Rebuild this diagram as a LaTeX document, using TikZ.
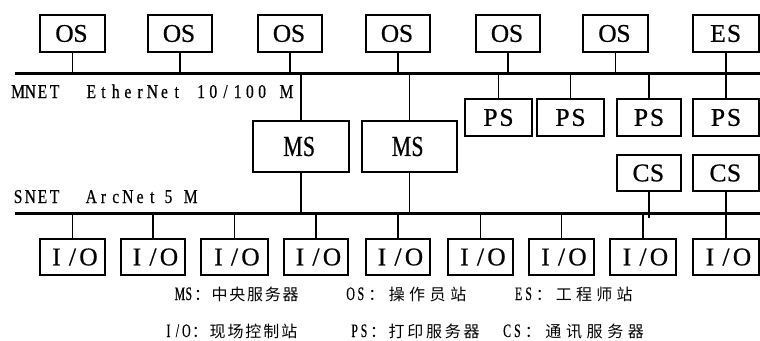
\documentclass[tikz,border=0pt]{standalone}
\usepackage{fontspec}
\setmainfont{Liberation Serif}
\newfontfamily\latw[FakeBold=0.6]{Liberation Serif}
\newfontfamily\latm[FakeStretch=0.75,FakeBold=0.6]{Liberation Serif}
\newfontfamily\lat[FakeStretch=0.8,FakeBold=0.5]{Liberation Serif}
\newfontfamily\latl[FakeStretch=0.62,FakeBold=0.4]{Liberation Serif}
\newfontfamily\cjk{Noto Sans CJK SC}
\makeatletter
\newcommand\cellrow[2]{\@tfor\cc:=#2\do{\makebox[#1][c]{\cc}}}
\makeatother
\newcommand\lgd[4]{{\latl\fontsize{19}{19}\selectfont\cellrow{#1}{#3}}{\cjk\fontsize{16}{16}\selectfont\cellrow{#2}{#4}}}
\begin{document}
\begin{tikzpicture}[x=1pt,y=-1pt,
  every node/.style={inner sep=0pt, outer sep=0pt},
  box/.style={draw, line width=1.2pt, minimum height=37pt, font=\latw\fontsize{25.5}{25.5}\selectfont},
  msbox/.style={draw, line width=1.2pt, minimum height=51pt, font=\latm\fontsize{29}{29}\selectfont},
  wire/.style={line width=1.8pt},
  bus/.style={line width=3.4pt},
  netlabel/.style={anchor=base west, font=\lat\fontsize{19.5}{19.5}\selectfont},
  legend/.style={anchor=base west}]
\useasboundingbox (0,0) rectangle (760,340);
\fill[white] (0,0) rectangle (760,340);

% buses
\coordinate (mnetL) at (15,73.5);
\coordinate (mnetR) at (760,73.5);
\coordinate (snetL) at (15,213.5);
\coordinate (snetR) at (760,213.5);
\coordinate (snetLow) at (15,218);
\draw[bus] (mnetL) -- (mnetR);
\draw[bus] (snetL) -- (snetR);

% bus labels
\node[netlabel] (mlab) at (12,98) {\cellrow{12.2pt}{MNET~~EtherNet~10/100~M}};
\node[netlabel] (slab) at (12,203) {\cellrow{12.2pt}{SNET~~ArcNet}\hspace{4pt}\makebox[12.2pt]{5}\hspace{10pt}\makebox[12.2pt]{M}};

% top row
\node[box, minimum width=65pt] (os1) at (72.5,33.5) {\cellrow{16pt}{OS}};
\node[box, minimum width=64pt] (os2) at (180,33.5) {\cellrow{16pt}{OS}};
\node[box, minimum width=64pt] (os3) at (290,33.5) {\cellrow{16pt}{OS}};
\node[box, minimum width=64pt] (os4) at (398,33.5) {\cellrow{16pt}{OS}};
\node[box, minimum width=64pt] (os5) at (508,33.5) {\cellrow{16pt}{OS}};
\node[box, minimum width=65pt] (os6) at (615.5,33.5) {\cellrow{16pt}{OS}};
\node[box, minimum width=66pt] (es) at (726,33.5) {\cellrow{16pt}{ES}};
\foreach \n in {os1,os2,os3,os4,os5,os6,es}
  \draw[wire] (\n.south) -- (\n.south |- mnetL);

% MS
\node[msbox, minimum width=96pt] (ms1) at (301,146.5) {\cellrow{16pt}{MS}};
\node[msbox, minimum width=95pt] (ms2) at (409.5,146.5) {\cellrow{16pt}{MS}};
\foreach \n in {ms1,ms2}{
  \draw[wire] (\n.north |- mnetL) -- (\n.north);
  \draw[wire] (\n.south) -- (\n.south |- snetL);
}

% PS
\node[box, minimum width=67pt] (ps1) at (498.5,117.5) {\cellrow{16pt}{PS}};
\node[box, minimum width=67pt] (ps2) at (570.5,117.5) {\cellrow{16pt}{PS}};
\node[box, minimum width=64pt] (ps3) at (649,117.5) {\cellrow{16pt}{PS}};
\node[box, minimum width=66pt] (ps4) at (726,117.5) {\cellrow{16pt}{PS}};
\foreach \n in {ps1,ps2,ps3,ps4}
  \draw[wire] (\n.north |- mnetL) -- (\n.north);

% CS
\node[box, minimum width=64pt, minimum height=36pt] (cs1) at (649,173) {\cellrow{16pt}{CS}};
\node[box, minimum width=66pt, minimum height=36pt] (cs2) at (726,173) {\cellrow{16pt}{CS}};
\foreach \n in {cs1,cs2}
  \draw[wire] (\n.south) -- (\n.south |- snetLow);

% I/O
\node[box, minimum width=65pt, minimum height=36pt] (io1) at (72.5,257) {\cellrow{16pt}{I/O}};
\node[box, minimum width=64pt, minimum height=36pt] (io2) at (153,257) {\cellrow{16pt}{I/O}};
\node[box, minimum width=67pt, minimum height=36pt] (io3) at (234.5,257) {\cellrow{16pt}{I/O}};
\node[box, minimum width=64pt, minimum height=36pt] (io4) at (316,257) {\cellrow{16pt}{I/O}};
\node[box, minimum width=64pt, minimum height=36pt] (io5) at (398,257) {\cellrow{16pt}{I/O}};
\node[box, minimum width=65pt, minimum height=36pt] (io6) at (480.5,257) {\cellrow{16pt}{I/O}};
\node[box, minimum width=65pt, minimum height=36pt] (io7) at (561.5,257) {\cellrow{16pt}{I/O}};
\node[box, minimum width=66pt, minimum height=36pt] (io8) at (643,257) {\cellrow{16pt}{I/O}};
\node[box, minimum width=66pt, minimum height=36pt] (io9) at (726,257) {\cellrow{16pt}{I/O}};
\foreach \n in {io1,io2,io3,io4,io5,io6,io7,io8,io9}
  \draw[wire] (\n.north |- snetL) -- (\n.north);

% legend
\node[legend] (l1) at (175.5,300) {\lgd{8.85pt}{17.7pt}{MS}{：中央服务器}};
\node[legend] (l2) at (345.5,300) {\lgd{10.25pt}{20.5pt}{OS}{：操作员站}};
\node[legend] (l3) at (513.5,300) {\lgd{10.1pt}{20.2pt}{ES}{：工程师站}};
\node[legend] (l4) at (164,337) {\lgd{8.95pt}{17.9pt}{I/O}{：现场控制站}};
\node[legend] (l5) at (350,337) {\lgd{9.35pt}{18.7pt}{PS}{：打印服务器}};
\node[legend] (l6) at (502,337) {\lgd{10.3pt}{20.6pt}{CS}{：通讯服务器}};
\end{tikzpicture}
\end{document}
